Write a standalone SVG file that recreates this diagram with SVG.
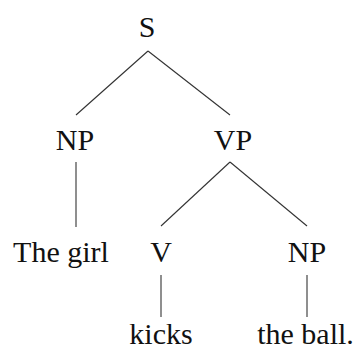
<svg xmlns="http://www.w3.org/2000/svg" width="358" height="351" viewBox="0 0 358 351">
<style>
.t{font-family:"Liberation Serif","Times New Roman",serif;font-size:30px;fill:#111;text-anchor:middle}
.e{stroke:#333;stroke-width:1.1;fill:none}
</style>
<rect width="358" height="351" fill="#fff"/>
<g id="connectors">
<line class="e" x1="148" y1="51" x2="76" y2="115"/>
<line class="e" x1="148" y1="51" x2="230" y2="115"/>
<line class="e" x1="76" y1="162" x2="76" y2="227"/>
<line class="e" x1="230" y1="162" x2="161" y2="226"/>
<line class="e" x1="230" y1="162" x2="307" y2="226"/>
<line class="e" x1="161" y1="275" x2="161" y2="317"/>
<line class="e" x1="307" y1="275" x2="307" y2="317"/>
</g>
<g id="S"><text class="t" x="147" y="37">S</text></g>
<g id="NP1"><text class="t" x="75" y="150">NP</text></g>
<g id="VP"><text class="t" x="233" y="150">VP</text></g>
<g id="thegirl"><text class="t" x="61" y="262">The girl</text></g>
<g id="V"><text class="t" x="161" y="262">V</text></g>
<g id="NP2"><text class="t" x="307" y="262">NP</text></g>
<g id="kicks"><text class="t" x="161" y="344">kicks</text></g>
<g id="theball"><text class="t" x="305.5" y="344">the ball.</text></g>
</svg>
